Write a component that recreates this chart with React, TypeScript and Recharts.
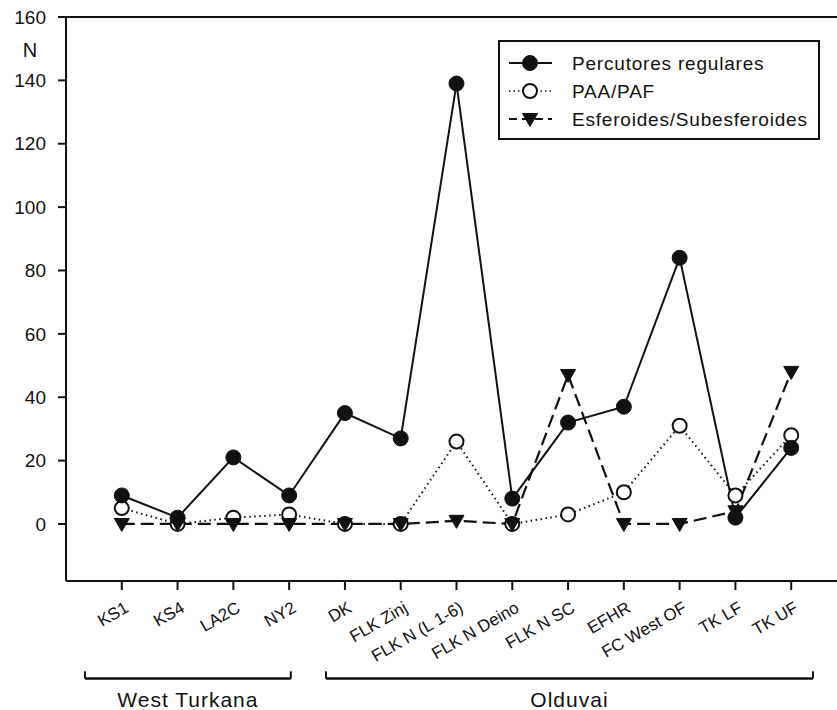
import React from "react";
import {
  LineChart,
  Line,
  XAxis,
  YAxis,
  Legend,
  Label,
  ReferenceLine,
} from "recharts";

// sites along the x axis
const categories = [
  "KS1",
  "KS4",
  "LA2C",
  "NY2",
  "DK",
  "FLK Zinj",
  "FLK N (L 1-6)",
  "FLK N Deino",
  "FLK N SC",
  "EFHR",
  "FC West OF",
  "TK LF",
  "TK UF",
];

const percutores = [9, 2, 21, 9, 35, 27, 139, 8, 32, 37, 84, 2, 24];
const paaPaf = [5, 0, 2, 3, 0, 0, 26, 0, 3, 10, 31, 9, 28];
const esferoides = [0, 0, 0, 0, 0, 0, 1, 0, 47, 0, 0, 4, 48];

const yTicks = [0, 20, 40, 60, 80, 100, 120, 140, 160];

// site groups shown with brackets under the axis (x in category units)
const groupNames = ["West Turkana", "Olduvai"];
const groupStart = [0.34, 4.66];
const groupEnd = [4.03, 13.39];

const data = categories.map((name, i) => ({
  x: i + 1,
  name,
  percutores: percutores[i],
  paa: paaPaf[i],
  esferoides: esferoides[i],
}));

const FONT = '"Liberation Sans", Arial, Helvetica, sans-serif';
const INK = "#111";

const FilledDot = (props: any) => {
  const { cx, cy, index } = props;
  if (cx == null || cy == null) return null;
  return <circle key={`f-${index}`} cx={cx} cy={cy} r={7.5} fill={INK} stroke={INK} strokeWidth={1} />;
};

const OpenDot = (props: any) => {
  const { cx, cy, index } = props;
  if (cx == null || cy == null) return null;
  return <circle key={`o-${index}`} cx={cx} cy={cy} r={7} fill="#fff" stroke={INK} strokeWidth={2} />;
};

const TriangleDot = (props: any) => {
  const { cx, cy, index } = props;
  if (cx == null || cy == null) return null;
  return (
    <path
      key={`t-${index}`}
      d={`M${cx - 7.5},${cy - 5.5} L${cx + 7.5},${cy - 5.5} L${cx},${cy + 7.5} Z`}
      fill={INK}
      stroke={INK}
      strokeWidth={1}
      strokeLinejoin="round"
    />
  );
};

// rotated site names, text end hangs just right of the tick
const CategoryTick = (props: any) => {
  const { x, y, payload } = props;
  return (
    <g transform={`translate(${x + 8}, ${y + 21})`}>
      <text x={0} y={0} textAnchor="end" fontSize={17} fill={INK} transform="rotate(-30)">
        {categories[payload.value - 1]}
      </text>
    </g>
  );
};

const legendItems = [
  { label: "Percutores regulares", dash: undefined, width: 2, marker: "filled" },
  { label: "PAA/PAF", dash: "1.5 3", width: 1.5, marker: "open" },
  { label: "Esferoides/Subesferoides", dash: "8 5", width: 2, marker: "tri" },
];

const renderLegend = () => (
  <svg width={322} height={100} style={{ display: "block", fontFamily: FONT }}>
    <rect x={1} y={1} width={320} height={98} fill="#fff" stroke={INK} strokeWidth={2} />
    {legendItems.map((it, i) => {
      const cy = 23 + i * 28;
      return (
        <g key={it.label}>
          <line
            x1={11}
            x2={54}
            y1={cy}
            y2={cy}
            stroke={INK}
            strokeWidth={it.width}
            strokeDasharray={it.dash}
          />
          {it.marker === "filled" && <FilledDot cx={32} cy={cy} index={i} />}
          {it.marker === "open" && <OpenDot cx={32} cy={cy} index={i} />}
          {it.marker === "tri" && <TriangleDot cx={32} cy={cy} index={i} />}
          <text x={74} y={cy + 7} fontSize={19} letterSpacing={0.8} fill={INK}>
            {it.label}
          </text>
        </g>
      );
    })}
  </svg>
);

const renderN = (props: any) => {
  const vb = props.viewBox || { x: 0, y: 17, width: 66 };
  return (
    <text x={vb.x + vb.width / 2 - 3} y={vb.y + 40} textAnchor="middle" fontSize={20} fill={INK}>
      N
    </text>
  );
};

export default function App() {
  return (
    <div
      style={{
        position: "absolute",
        left: 0,
        top: 0,
        width: 837,
        height: 710,
        overflow: "hidden",
        background: "#fff",
      }}
    >
      <LineChart
        width={850}
        height={710}
        data={data}
        margin={{ top: 17, right: 3, bottom: 0, left: 0 }}
        style={{ fontFamily: FONT }}
      >
        <XAxis
          type="number"
          dataKey="x"
          domain={[0, 14]}
          ticks={categories.map((_, i) => i + 1)}
          interval={0}
          height={129}
          tick={<CategoryTick />}
          tickSize={9}
          tickMargin={0}
          axisLine={{ stroke: INK, strokeWidth: 2 }}
          tickLine={{ stroke: INK, strokeWidth: 2 }}
        />
        <YAxis
          type="number"
          domain={[-18, 160]}
          ticks={yTicks}
          interval={0}
          width={66}
          tick={{ fontSize: 19, fill: INK }}
          tickSize={8}
          tickMargin={12}
          axisLine={{ stroke: INK, strokeWidth: 2 }}
          tickLine={{ stroke: INK, strokeWidth: 2 }}
        >
          <Label content={renderN} />
        </YAxis>
        <ReferenceLine y={160} stroke={INK} strokeWidth={2} />

        {groupNames.map((g, i) => (
          <ReferenceLine
            key={`gh-${g}`}
            segment={[
              { x: groupStart[i], y: -48.8 },
              { x: groupEnd[i], y: -48.8 },
            ]}
            ifOverflow="visible"
            stroke={INK}
            strokeWidth={2.5}
            label={{
              value: g,
              position: "bottom",
              offset: 13,
              fontSize: 21,
              letterSpacing: 1,
              fill: INK,
            }}
          />
        ))}
        {groupNames.map((g, i) => (
          <ReferenceLine
            key={`gl-${g}`}
            segment={[
              { x: groupStart[i], y: -48.8 },
              { x: groupStart[i], y: -46.5 },
            ]}
            ifOverflow="visible"
            stroke={INK}
            strokeWidth={2}
          />
        ))}
        {groupNames.map((g, i) => (
          <ReferenceLine
            key={`gr-${g}`}
            segment={[
              { x: groupEnd[i], y: -48.8 },
              { x: groupEnd[i], y: -46.5 },
            ]}
            ifOverflow="visible"
            stroke={INK}
            strokeWidth={2}
          />
        ))}

        <Line
          dataKey="paa"
          stroke={INK}
          strokeWidth={2}
          strokeDasharray="1.5 3.5"
          dot={OpenDot}
          activeDot={false}
          isAnimationActive={false}
        />
        <Line
          dataKey="percutores"
          stroke={INK}
          strokeWidth={2}
          dot={FilledDot}
          activeDot={false}
          isAnimationActive={false}
        />
        <Line
          dataKey="esferoides"
          stroke={INK}
          strokeWidth={2.2}
          strokeDasharray="13 6"
          dot={TriangleDot}
          activeDot={false}
          isAnimationActive={false}
        />
        <Legend
          layout="horizontal"
          verticalAlign="middle"
          align="center"
          content={renderLegend}
          wrapperStyle={{ top: 40, left: 498, width: 322, height: 100 }}
        />
      </LineChart>
    </div>
  );
}
